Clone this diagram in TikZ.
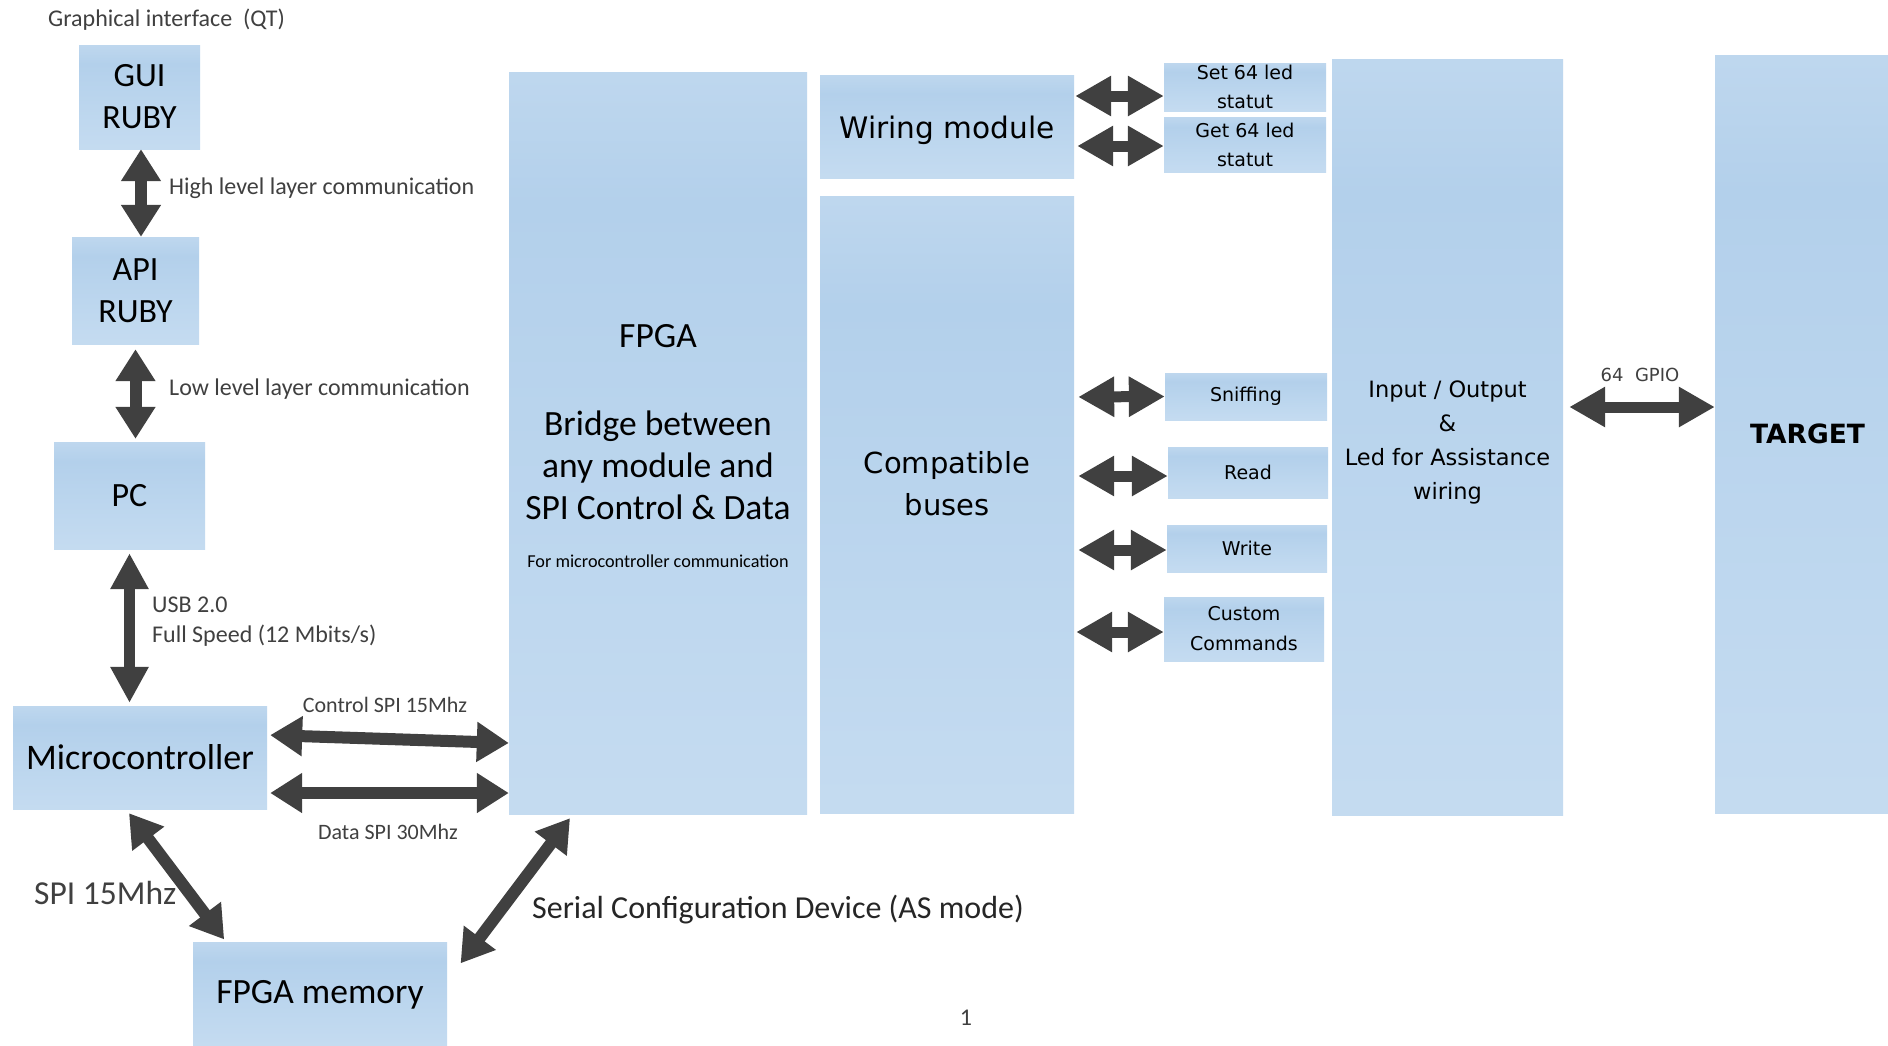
\documentclass[tikz,border=0pt]{standalone}
\usepackage{fontspec}
\setmainfont{Carlito}
\newfontfamily\dvfont{DejaVu Sans}
\usetikzlibrary{arrows.meta,calc}
\definecolor{arr}{HTML}{404040}
\definecolor{lbl}{HTML}{404040}
\definecolor{bxtop}{HTML}{DEEBF7}
\definecolor{bxmid}{HTML}{B3D0EB}
\definecolor{bxlow}{HTML}{BFD8EF}
\definecolor{bxbot}{HTML}{CFE1F3}
\pgfdeclareverticalshading{boxshade}{100bp}{color(0bp)=(bxbot); color(38bp)=(bxlow); color(66bp)=(bxmid); color(100bp)=(bxtop)}
\newcommand\fsz[2]{\fontsize{#1}{#2}\selectfont}
\tikzset{
  blk/.style={shading=boxshade, draw=none, inner sep=0pt, align=center, text=black},
  conn/.style={draw=arr, line width=12pt, {Triangle[length=32pt,width=38pt]}-{Triangle[length=32pt,width=38pt]}},
  vconn/.style={draw=arr, line width=11pt, {Triangle[length=36pt,width=36pt]}-{Triangle[length=36pt,width=36pt]}},
  hconn/.style={draw=arr, line width=11pt, {Triangle[length=36pt,width=38pt]}-{Triangle[length=36pt,width=38pt]}},
  lab/.style={text=lbl, inner sep=0pt},
}
\begin{document}
\begin{tikzpicture}[x=1pt,y=-1pt]
\fill[white] (0,0) rectangle (1888,1045);
\useasboundingbox (0,0) rectangle (1888,1045);

% left column
\node[blk, minimum width=121pt, minimum height=104pt, font=\fsz{34}{42}] (gui) at (139.5,97) {GUI\\RUBY};
\node[blk, minimum width=127pt, minimum height=107pt, font=\fsz{34}{42}] (api) at (135.5,290.5) {API\\RUBY};
\node[blk, minimum width=151pt, minimum height=107pt, font=\fsz{34}{42}] (pc) at (129.5,495.5) {PC};
\node[blk, minimum width=254pt, minimum height=103pt, font=\fsz{36}{42}] (mcu) at (140,757.5) {Microcontroller};
\node[blk, minimum width=254pt, minimum height=105pt, font=\fsz{35.5}{42}] (fmem) at (320,994.5) {FPGA memory};

% FPGA
\node[blk, minimum width=298pt, minimum height=742pt] (fpga) at (658,443) {};
\node[inner sep=0pt, align=center, font=\fsz{35.5}{42}] (fpgatxt) at (658,422) {FPGA\\[46pt]Bridge between\\any module and\\SPI Control \& Data};
\node[inner sep=0pt, font=\fsz{18.2}{22}] (fpganote) at (658,561) {For microcontroller communication};

% modules
\node[blk, minimum width=254pt, minimum height=103pt] (wiring) at (947,126.5) {};
\node[inner sep=0pt, font=\dvfont\fsz{29.6}{40}] (wirtxt) at (947,130) {Wiring module};
\node[blk, minimum width=254pt, minimum height=617pt] (buses) at (947,504.5) {};
\node[inner sep=0pt, align=center, font=\dvfont\fsz{29}{42}] (bustxt) at (947,484) {Compatible\\buses};

\node[blk, minimum width=162pt, minimum height=48pt, font=\dvfont\fsz{19}{29}] (setled) at (1245,87) {Set 64 led\\statut};
\node[blk, minimum width=162pt, minimum height=55pt, font=\dvfont\fsz{19}{29}] (getled) at (1245,144.5) {Get 64 led\\statut};
\node[blk, minimum width=162pt, minimum height=47pt, font=\dvfont\fsz{19}{29}] (sniff) at (1246,396.5) {Sniffing};
\node[blk, minimum width=160pt, minimum height=51pt, font=\dvfont\fsz{19}{29}] (read) at (1248,472.5) {Read};
\node[blk, minimum width=160pt, minimum height=47pt, font=\dvfont\fsz{19}{29}] (write) at (1247,548.5) {Write};
\node[blk, minimum width=160pt, minimum height=64pt, font=\dvfont\fsz{19}{30}] (custom) at (1244,629) {Custom\\Commands};

\node[blk, minimum width=231pt, minimum height=756pt] (io) at (1447.5,437) {};
\node[inner sep=0pt, align=center, font=\dvfont\fsz{22.5}{34}] (iotxt) at (1447.5,442) {Input / Output\\\&\\Led for Assistance\\wiring};
\node[blk, minimum width=185pt, minimum height=758pt, font=\dvfont\bfseries\fsz{26.5}{32}] (target) at (1807.5,434) {TARGET};

% labels
\node[lab, anchor=west, font=\fsz{24}{28}] (lqt) at (48,20) {Graphical interface~ (QT)};
\node[lab, anchor=west, font=\fsz{24}{28}] (lhigh) at (169,188) {High level layer communication};
\node[lab, anchor=west, font=\fsz{24}{28}] (llow) at (169,389) {Low level layer communication};
\node[lab, anchor=west, align=left, font=\fsz{24}{30}] (lusb) at (152,622) {USB 2.0\\Full Speed (12 Mbits/s)};
\node[lab, font=\fsz{22}{26}] (lctl) at (385,705) {Control SPI 15Mhz};
\node[lab, font=\fsz{22}{26}] (ldata) at (388,832) {Data SPI 30Mhz};
\node[lab, anchor=west, font=\fsz{33.5}{38}] (lspi) at (34,893) {SPI 15Mhz};
\node[inner sep=0pt, anchor=west, text=black!85, font=\fsz{32}{38}] (lscd) at (532,910) {Serial Configuration Device (AS mode)};
\node[lab, font=\dvfont\fsz{18}{22}] (lgpio) at (1640,375) {64~ GPIO};
\node[lab, font=\fsz{24}{28}] (lpage) at (966,1018) {1};

% connectors
\draw[conn] ([xshift=1.5pt]gui.south) -- ([xshift=1.5pt]gui.south |- api.north);
\draw[conn, shorten <=5pt, shorten >=3pt] (api.south) -- (api.south |- pc.north);
\draw[vconn, shorten <=4pt, shorten >=3pt] (pc.south) -- (pc.south |- mcu.north);
\draw[conn, shorten <=3pt] ([yshift=22.5pt]mcu.east) -- ([yshift=-300pt]fpga.west);
\draw[conn, shorten <=3pt] ([yshift=-35.5pt]mcu.east) -- ([yshift=-350pt]fpga.west);
\draw[conn, shorten <=5pt, shorten >=3pt] ([xshift=-14pt]mcu.south) -- ([xshift=-94pt]fmem.north);
\draw[conn, shorten <=5pt, shorten >=4pt] ([xshift=-85pt]fpga.south) -- ([xshift=11pt,yshift=28pt]fmem.east);

\draw[hconn, shorten <=1pt] ([yshift=30.5pt]wiring.east) -- ([yshift=-9pt]setled.west);
\draw[hconn, shorten <=3pt] ([yshift=-19.5pt]wiring.east) -- ([yshift=-1.5pt]getled.west);
\draw[hconn, shorten <=4pt] ([yshift=107.5pt]buses.east) -- (sniff.west);
\draw[hconn, shorten <=4pt] ([yshift=28.5pt]buses.east) -- ([yshift=-3.5pt]read.west);
\draw[hconn, shorten <=4pt] ([yshift=-45.5pt]buses.east) -- ([yshift=-1.5pt]write.west);
\draw[hconn, shorten <=2pt] ([yshift=-127.5pt]buses.east) -- ([yshift=-3pt]custom.west);
\draw[hconn, shorten <=6pt] ([yshift=30pt]io.east) -- ([yshift=27pt]target.west);
\end{tikzpicture}
\end{document}
